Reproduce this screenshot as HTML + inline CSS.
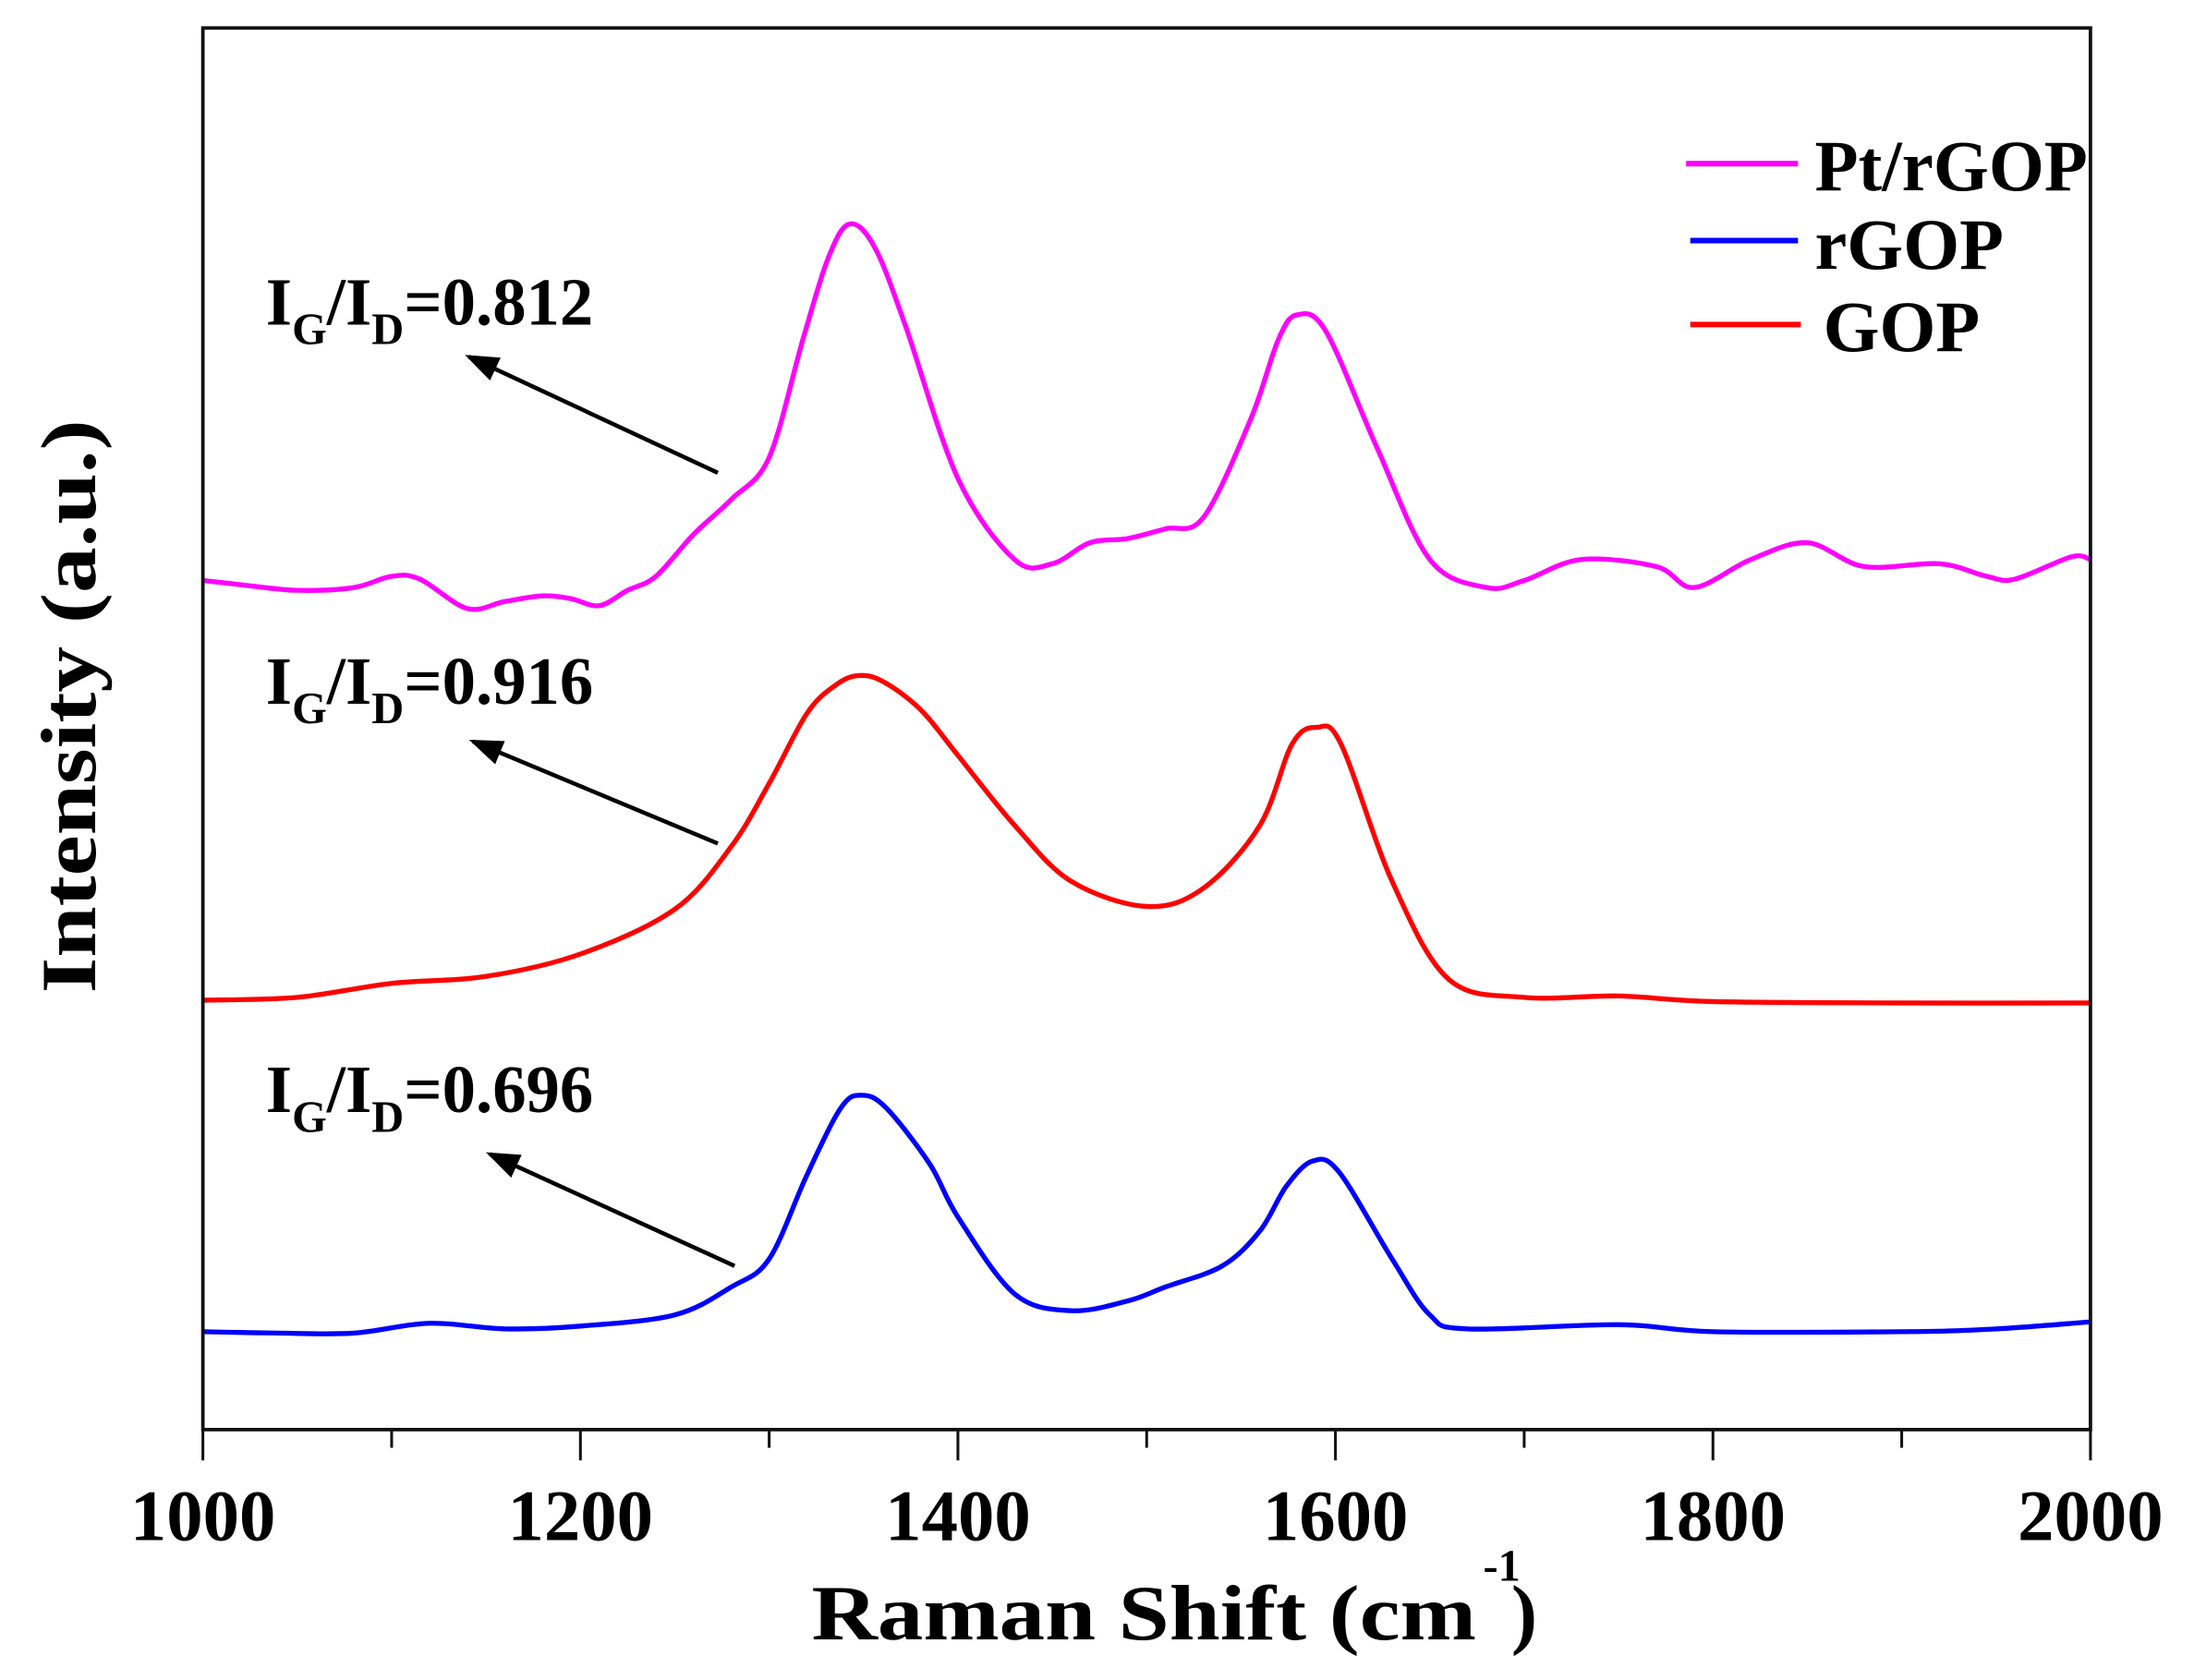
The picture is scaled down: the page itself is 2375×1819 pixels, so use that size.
<!DOCTYPE html>
<html><head><meta charset="utf-8"><style>
html,body{margin:0;padding:0;background:#fff;}
svg{display:block;}
text{font-family:"Liberation Serif",serif;font-weight:bold;fill:#000;}
</style></head><body>
<svg id="chart" width="2375" height="1819" viewBox="0 0 1568 1201" preserveAspectRatio="none" xmlns="http://www.w3.org/2000/svg">
<defs><marker id="ah" markerWidth="8" markerHeight="6" refX="7" refY="3" orient="auto" markerUnits="strokeWidth"><path d="M0,0 L8,3 L0,6 Z" fill="#000"/></marker></defs>
<g id="plot"></g>
<rect x="145" y="20" width="1349" height="1002" fill="none" stroke="#111" stroke-width="2.5"/>
<g id="axes"></g>
<text x="580" y="1172" font-size="56" textLength="475" lengthAdjust="spacingAndGlyphs">Raman Shift (cm</text>
<text x="1060" y="1130" font-size="32">-1</text>
<text x="1080" y="1172" font-size="56">)</text>
<text transform="translate(68,505) rotate(-90)" text-anchor="middle" font-size="56" textLength="410" lengthAdjust="spacingAndGlyphs">Intensity (a.u.)</text>
<g>
<line x1="1205" y1="117" x2="1285" y2="117" stroke="#ff00ff" stroke-width="4"/>
<text x="1297" y="136" font-size="52" textLength="195" lengthAdjust="spacingAndGlyphs">Pt/rGOP</text>
<line x1="1208" y1="172" x2="1285" y2="172" stroke="#0000ff" stroke-width="4"/>
<text x="1297" y="192" font-size="52" textLength="135" lengthAdjust="spacingAndGlyphs">rGOP</text>
<line x1="1208" y1="232" x2="1287" y2="232" stroke="#ff0000" stroke-width="4"/>
<text x="1303" y="251" font-size="52" textLength="112" lengthAdjust="spacingAndGlyphs">GOP</text>
</g>
<g>
<text x="190" y="232" font-size="48">I<tspan font-size="32" dy="14">G</tspan><tspan font-size="48" dy="-14">/I</tspan><tspan font-size="32" dy="14">D</tspan><tspan font-size="48" dy="-14">=0.812</tspan></text>
<line x1="513" y1="338" x2="335" y2="255" stroke="#000" stroke-width="3" marker-end="url(#ah)"/>
</g>
<g>
<text x="190" y="503" font-size="48">I<tspan font-size="32" dy="14">G</tspan><tspan font-size="48" dy="-14">/I</tspan><tspan font-size="32" dy="14">D</tspan><tspan font-size="48" dy="-14">=0.916</tspan></text>
<line x1="513" y1="603" x2="338" y2="530" stroke="#000" stroke-width="3" marker-end="url(#ah)"/>
</g>
<g>
<text x="190" y="795" font-size="48">I<tspan font-size="32" dy="14">G</tspan><tspan font-size="48" dy="-14">/I</tspan><tspan font-size="32" dy="14">D</tspan><tspan font-size="48" dy="-14">=0.696</tspan></text>
<line x1="525" y1="905" x2="350" y2="825" stroke="#000" stroke-width="3" marker-end="url(#ah)"/>
</g>
</svg>
<script>
// Values: intensity in a.u. (offset curves), wavenumbers in cm^-1
const ptWaves = [1000,1020,1050,1080,1100,1115,1140,1160,1180,1195,1210,1225,1240,1260,1280,1300,1318,1332,1343,1356,1372,1400,1430,1450,1470,1490,1510,1530,1555,1570,1580,1595,1622,1650,1680,1700,1730,1770,1790,1820,1850,1880,1920,1945,1960,1990,2000];
const ptVals  = [607,604,600,602,610,608,587,592,596,594,589,600,610,640,665,695,780,840,862,845,790,680,622,619,634,637,644,652,722,780,797,785,702,622,602,607,622,617,602,622,634,617,619,610,608,624,622];
const gopWaves = [1000,1050,1100,1150,1200,1250,1280,1300,1320,1335,1347,1360,1380,1400,1430,1460,1500,1530,1560,1577,1590,1603,1630,1660,1700,1750,1800,1900,2000];
const gopVals  = [307,309,319,324,340,372,417,462,512,532,539,535,515,482,432,392,374,387,432,490,502,490,392,322,309,310,306,305,305];
const rgopWaves = [1000,1040,1080,1120,1160,1200,1250,1280,1300,1320,1338,1349,1362,1385,1400,1430,1460,1490,1510,1540,1560,1574,1588,1602,1630,1650,1670,1750,1800,1900,1950,2000];
const rgopVals  = [70,69,69,76,72,74,82,102,122,182,230,239,230,190,152,97,85,92,102,117,142,174,192,184,122,82,72,75,70,70,72,77];
const xTicks = [1000,1200,1400,1600,1800,2000];
const xMinor = [1100,1300,1500,1700,1900];

const NS="http://www.w3.org/2000/svg";
const X0=145,X1=1494,YB=1022;
function xs(v){return X0+(v-1000)/1000*(X1-X0);}
function ys(v){return YB-v;}
function spline(pts){
  let d="M"+pts[0][0].toFixed(1)+","+pts[0][1].toFixed(1);
  for(let i=0;i<pts.length-1;i++){
    const p0=pts[Math.max(i-1,0)],p1=pts[i],p2=pts[i+1],p3=pts[Math.min(i+2,pts.length-1)];
    const c1=[p1[0]+(p2[0]-p0[0])/6,p1[1]+(p2[1]-p0[1])/6];
    const c2=[p2[0]-(p3[0]-p1[0])/6,p2[1]-(p3[1]-p1[1])/6];
    d+=" C"+c1[0].toFixed(1)+","+c1[1].toFixed(1)+" "+c2[0].toFixed(1)+","+c2[1].toFixed(1)+" "+p2[0].toFixed(1)+","+p2[1].toFixed(1);
  }
  return d;
}
const plot=document.getElementById('plot');
function drawSeries(w,v,color,name){
  const p=document.createElementNS(NS,'path');
  p.setAttribute('d',spline(w.map((x,i)=>[xs(x),ys(v[i])])));
  p.setAttribute('fill','none');p.setAttribute('stroke',color);p.setAttribute('stroke-width','3.5');
  p.setAttribute('stroke-linejoin','round');
  
  
  plot.appendChild(p);
}
drawSeries(ptWaves,ptVals,'#ff00ff','series-pt-rgop');
drawSeries(gopWaves,gopVals,'#ff0000','series-gop');
drawSeries(rgopWaves,rgopVals,'#0000ff','series-rgop');
const axes=document.getElementById('axes');
xTicks.forEach(t=>{
  const l=document.createElementNS(NS,'line');
  l.setAttribute('x1',xs(t));l.setAttribute('x2',xs(t));l.setAttribute('y1',YB);l.setAttribute('y2',YB+22);
  l.setAttribute('stroke','#111');l.setAttribute('stroke-width','2');
  
  
  axes.appendChild(l);
  const tx=document.createElementNS(NS,'text');
  tx.setAttribute('x',xs(t));tx.setAttribute('y',1101);tx.setAttribute('text-anchor','middle');tx.setAttribute('font-size','52');
  tx.textContent=t;
  
  
  axes.appendChild(tx);
});
xMinor.forEach(t=>{
  const l=document.createElementNS(NS,'line');
  l.setAttribute('x1',xs(t));l.setAttribute('x2',xs(t));l.setAttribute('y1',YB);l.setAttribute('y2',YB+13);
  l.setAttribute('stroke','#111');l.setAttribute('stroke-width','2');
  
  
  axes.appendChild(l);
});
</script>
</body></html>
